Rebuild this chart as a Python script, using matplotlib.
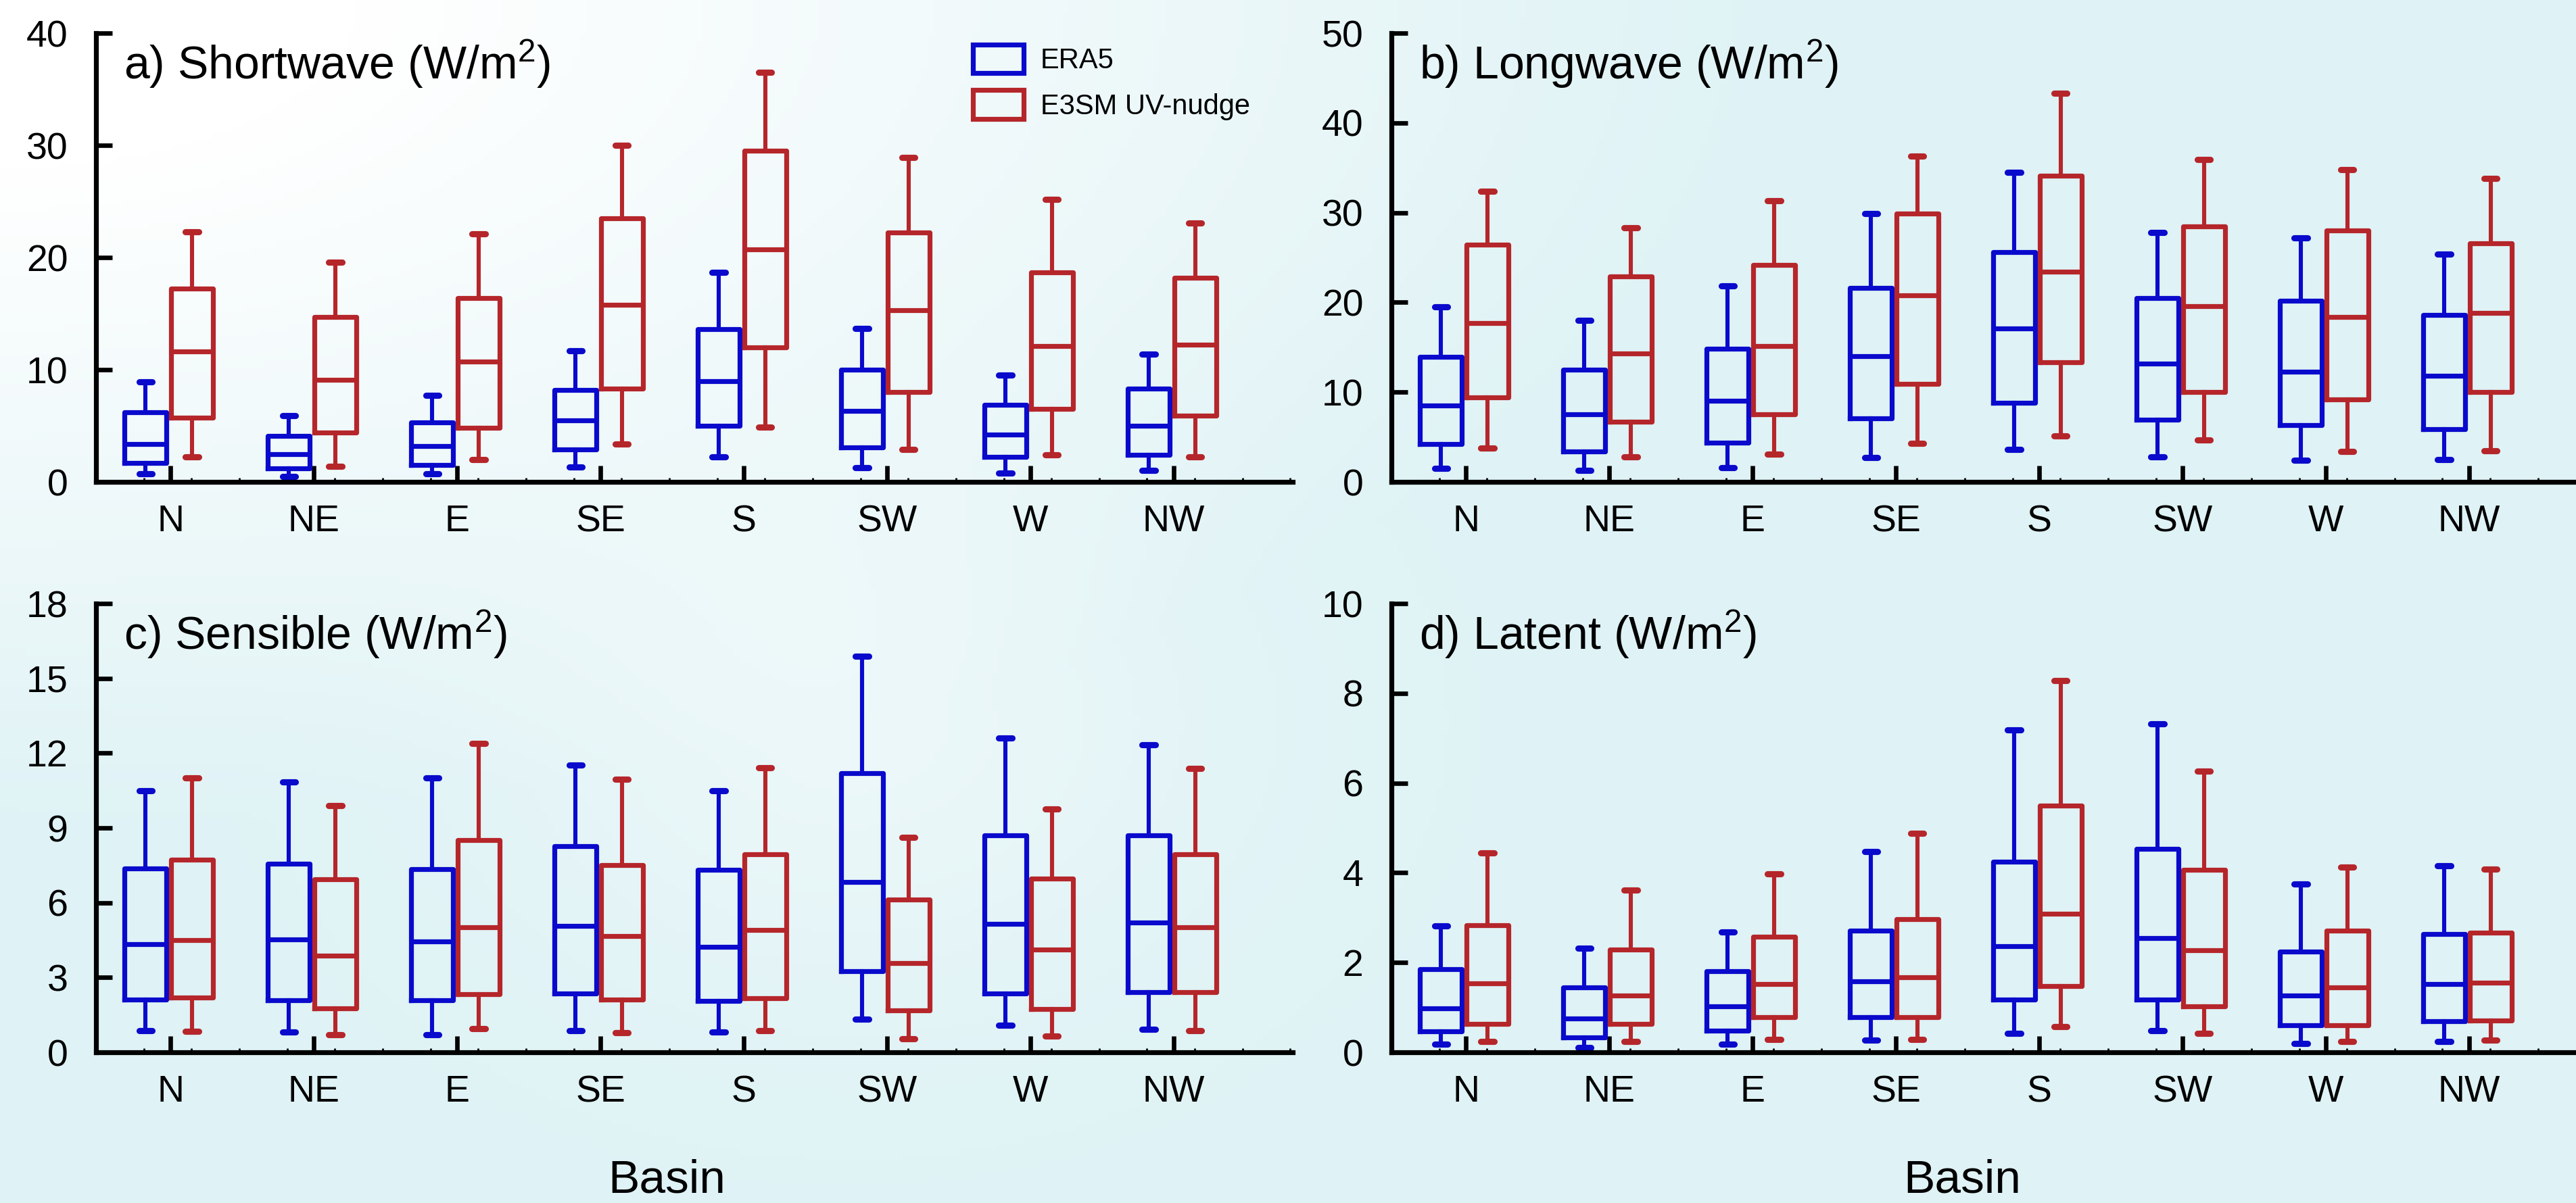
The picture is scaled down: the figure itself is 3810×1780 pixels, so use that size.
import matplotlib
matplotlib.use("Agg")
import matplotlib.pyplot as plt
import matplotlib.ticker as plticker
from matplotlib.patches import Patch
import numpy as np

plt.rcParams['font.family'] = ['Liberation Sans', 'DejaVu Sans']
plt.rcParams['mathtext.fontset'] = 'custom'
plt.rcParams['mathtext.rm'] = 'Liberation Sans'
plt.rcParams['mathtext.it'] = 'Liberation Sans:italic'
plt.rcParams['mathtext.default'] = 'regular'

basins = ['N', 'NE', 'E', 'SE', 'S', 'SW', 'W', 'NW']

# each row: (whisker low, q1, median, q3, whisker high)
sw_era5 = [(0.7, 1.7, 3.4, 6.2, 8.9), (0.5, 1.2, 2.5, 4.1, 5.9), (0.7, 1.5, 3.2, 5.3, 7.7),
           (1.3, 2.9, 5.5, 8.2, 11.7), (2.2, 5.0, 9.0, 13.6, 18.7), (1.25, 3.1, 6.3, 10.0, 13.7),
           (0.8, 2.2, 4.2, 6.85, 9.5), (1.0, 2.4, 5.0, 8.3, 11.4)]
sw_e3sm = [(2.2, 5.7, 11.6, 17.2, 22.3), (1.4, 4.4, 9.1, 14.7, 19.6), (2.0, 4.8, 10.7, 16.4, 22.1),
           (3.4, 8.3, 15.8, 23.5, 30.0), (4.9, 12.0, 20.7, 29.5, 36.5), (2.9, 8.0, 15.3, 22.2, 28.9),
           (2.4, 6.5, 12.1, 18.7, 25.2), (2.2, 5.9, 12.2, 18.2, 23.1)]

lw_era5 = [(1.5, 4.2, 8.5, 13.9, 19.5), (1.3, 3.4, 7.5, 12.5, 18.0), (1.6, 4.4, 9.0, 14.8, 21.8),
           (2.7, 7.1, 14.0, 21.6, 29.9), (3.6, 8.8, 17.1, 25.6, 34.5), (2.8, 6.9, 13.2, 20.5, 27.8),
           (2.4, 6.3, 12.3, 20.2, 27.2), (2.5, 5.9, 11.8, 18.6, 25.4)]
lw_e3sm = [(3.8, 9.4, 17.7, 26.4, 32.4), (2.8, 6.7, 14.3, 22.9, 28.3), (3.1, 7.5, 15.1, 24.2, 31.3),
           (4.3, 10.9, 20.8, 29.9, 36.3), (5.1, 13.3, 23.4, 34.1, 43.3), (4.7, 10.0, 19.6, 28.5, 35.9),
           (3.4, 9.2, 18.4, 28.0, 34.8), (3.5, 10.0, 18.8, 26.6, 33.8)]

sh_era5 = [(0.87, 2.12, 4.34, 7.38, 10.5), (0.80, 2.09, 4.53, 7.56, 10.85), (0.71, 2.09, 4.45, 7.35, 11.0),
           (0.87, 2.36, 5.06, 8.26, 11.53), (0.81, 2.06, 4.24, 7.31, 10.5), (1.34, 3.24, 6.82, 11.19, 15.88),
           (1.09, 2.36, 5.14, 8.7, 12.6), (0.92, 2.40, 5.21, 8.7, 12.34)]
sh_e3sm = [(0.84, 2.20, 4.50, 7.72, 11.0), (0.71, 1.77, 3.89, 6.95, 9.89), (0.96, 2.32, 5.02, 8.5, 12.38),
           (0.79, 2.12, 4.66, 7.5, 10.96), (0.88, 2.17, 4.92, 7.94, 11.42), (0.55, 1.67, 3.57, 6.13, 8.62),
           (0.66, 1.73, 4.13, 6.98, 9.75), (0.88, 2.40, 5.01, 7.94, 11.39)]

lh_era5 = [(0.18, 0.46, 0.98, 1.85, 2.81), (0.11, 0.33, 0.76, 1.45, 2.32), (0.18, 0.48, 1.03, 1.80, 2.68),
           (0.27, 0.78, 1.58, 2.71, 4.48), (0.42, 1.18, 2.37, 4.24, 7.18), (0.48, 1.18, 2.54, 4.54, 7.32),
           (0.20, 0.60, 1.27, 2.25, 3.75), (0.24, 0.69, 1.52, 2.63, 4.15)]
lh_e3sm = [(0.24, 0.63, 1.54, 2.83, 4.44), (0.24, 0.63, 1.27, 2.29, 3.61), (0.29, 0.78, 1.52, 2.58, 3.97),
           (0.29, 0.78, 1.67, 2.96, 4.88), (0.57, 1.47, 3.08, 5.49, 8.29), (0.42, 1.03, 2.27, 4.06, 6.27),
           (0.24, 0.60, 1.45, 2.71, 4.13), (0.27, 0.71, 1.55, 2.67, 4.08)]

titles = ['a) Shortwave (W/m$^2$)', 'b) Longwave (W/m$^2$)', 'c) Sensible (W/m$^2$)', 'd) Latent (W/m$^2$)']
y_max = [40, 50, 18, 10]
y_step = [10, 10, 3, 2]

blue = '#0a0acc'
red = '#b5262b'
xlim = (0.48, 8.83)


def to_stats(rows):
    return [dict(whislo=r[0], q1=r[1], med=r[2], q3=r[3], whishi=r[4]) for r in rows]


def draw_boxes(ax, rows, offset, color):
    lw = 2.6
    ax.bxp(to_stats(rows), positions=np.arange(1, len(rows) + 1) + offset, widths=0.29,
           capwidths=0.09, showfliers=False, manage_ticks=False,
           boxprops=dict(color=color, linewidth=lw),
           medianprops=dict(color=color, linewidth=lw, solid_capstyle='butt'),
           whiskerprops=dict(color=color, linewidth=2.2),
           capprops=dict(color=color, linewidth=3.3, solid_capstyle='round'))


def style_axis(ax, ymax, step):
    ax.set_facecolor('none')
    ax.set_xlim(*xlim)
    ax.set_ylim(0, ymax)
    for side in ['top', 'right']:
        ax.spines[side].set_visible(False)
    for side in ['left', 'bottom']:
        ax.spines[side].set_linewidth(2.6)
        ax.spines[side].set_capstyle('projecting')
    ax.set_xticks(np.arange(1, len(basins) + 1))
    ax.set_xticklabels(basins)
    ax.xaxis.set_minor_locator(plticker.FixedLocator(np.arange(xlim[0] + 1 / 3, xlim[1], 1 / 3)))
    ax.set_yticks(np.arange(0, ymax + 0.01, step))
    ax.tick_params(axis='both', which='major', direction='in', length=8.5, width=2.4, labelsize=20)
    ax.tick_params(axis='x', which='major', pad=12)
    ax.tick_params(axis='y', which='major', pad=15)
    ax.tick_params(axis='x', which='minor', direction='in', length=2, width=1.0)


fig = plt.figure(figsize=(19.05, 8.9), dpi=200)

# soft light-cyan background
bg = fig.add_axes([0, 0, 1, 1], zorder=-10)
gx, gy = np.meshgrid(np.linspace(0, 1, 400), np.linspace(0, 1, 200))
w = np.clip(np.sqrt((gx / 0.55) ** 2 + (gy / 0.55) ** 2) - 0.25, 0, 1)
w = w * (1 - 0.4 * np.exp(-((gx - 0.33) ** 2) / 0.02 - ((gy - 0.6) ** 2) / 0.05))
white = np.array([1.0, 1.0, 1.0])
cyan = np.array([0.875, 0.952, 0.962])
img = white[None, None, :] * (1 - w[..., None]) + cyan[None, None, :] * w[..., None]
bg.imshow(img, extent=[0, 1, 0, 1], aspect='auto', origin='upper')
bg.axis('off')

ax_w = 1770 / 3810
ax_h = 664 / 1780
lefts = [142 / 3810, 2058 / 3810, 142 / 3810, 2058 / 3810]
bottoms = [1 - 713 / 1780, 1 - 713 / 1780, 1 - 1557 / 1780, 1 - 1557 / 1780]
panels = [(sw_era5, sw_e3sm), (lw_era5, lw_e3sm), (sh_era5, sh_e3sm), (lh_era5, lh_e3sm)]

axes = []
for i, (era5, e3sm) in enumerate(panels):
    ax = fig.add_axes([lefts[i], bottoms[i], ax_w, ax_h])
    style_axis(ax, y_max[i], y_step[i])
    draw_boxes(ax, era5, -0.175, blue)
    draw_boxes(ax, e3sm, 0.15, red)
    ax.text(0.023, 0.898, titles[i], transform=ax.transAxes, fontsize=24.5,
            ha='left', va='baseline')
    axes.append(ax)

for ax in axes[2:]:
    ax.text(0.477, -0.285, 'Basin', transform=ax.transAxes, fontsize=25,
            ha='center', va='center')

handles = [Patch(facecolor='none', edgecolor=blue, linewidth=2.6, label='ERA5'),
           Patch(facecolor='none', edgecolor=red, linewidth=2.6, label='E3SM UV-nudge')]
axes[0].legend(handles=handles, loc='upper left', bbox_to_anchor=(0.733, 0.975), frameon=False,
               fontsize=15, handlelength=1.8, handleheight=1.2, labelspacing=0.56,
               handletextpad=0.58, borderaxespad=0.0, borderpad=0.0)

fig.savefig('out.png', dpi=200)
